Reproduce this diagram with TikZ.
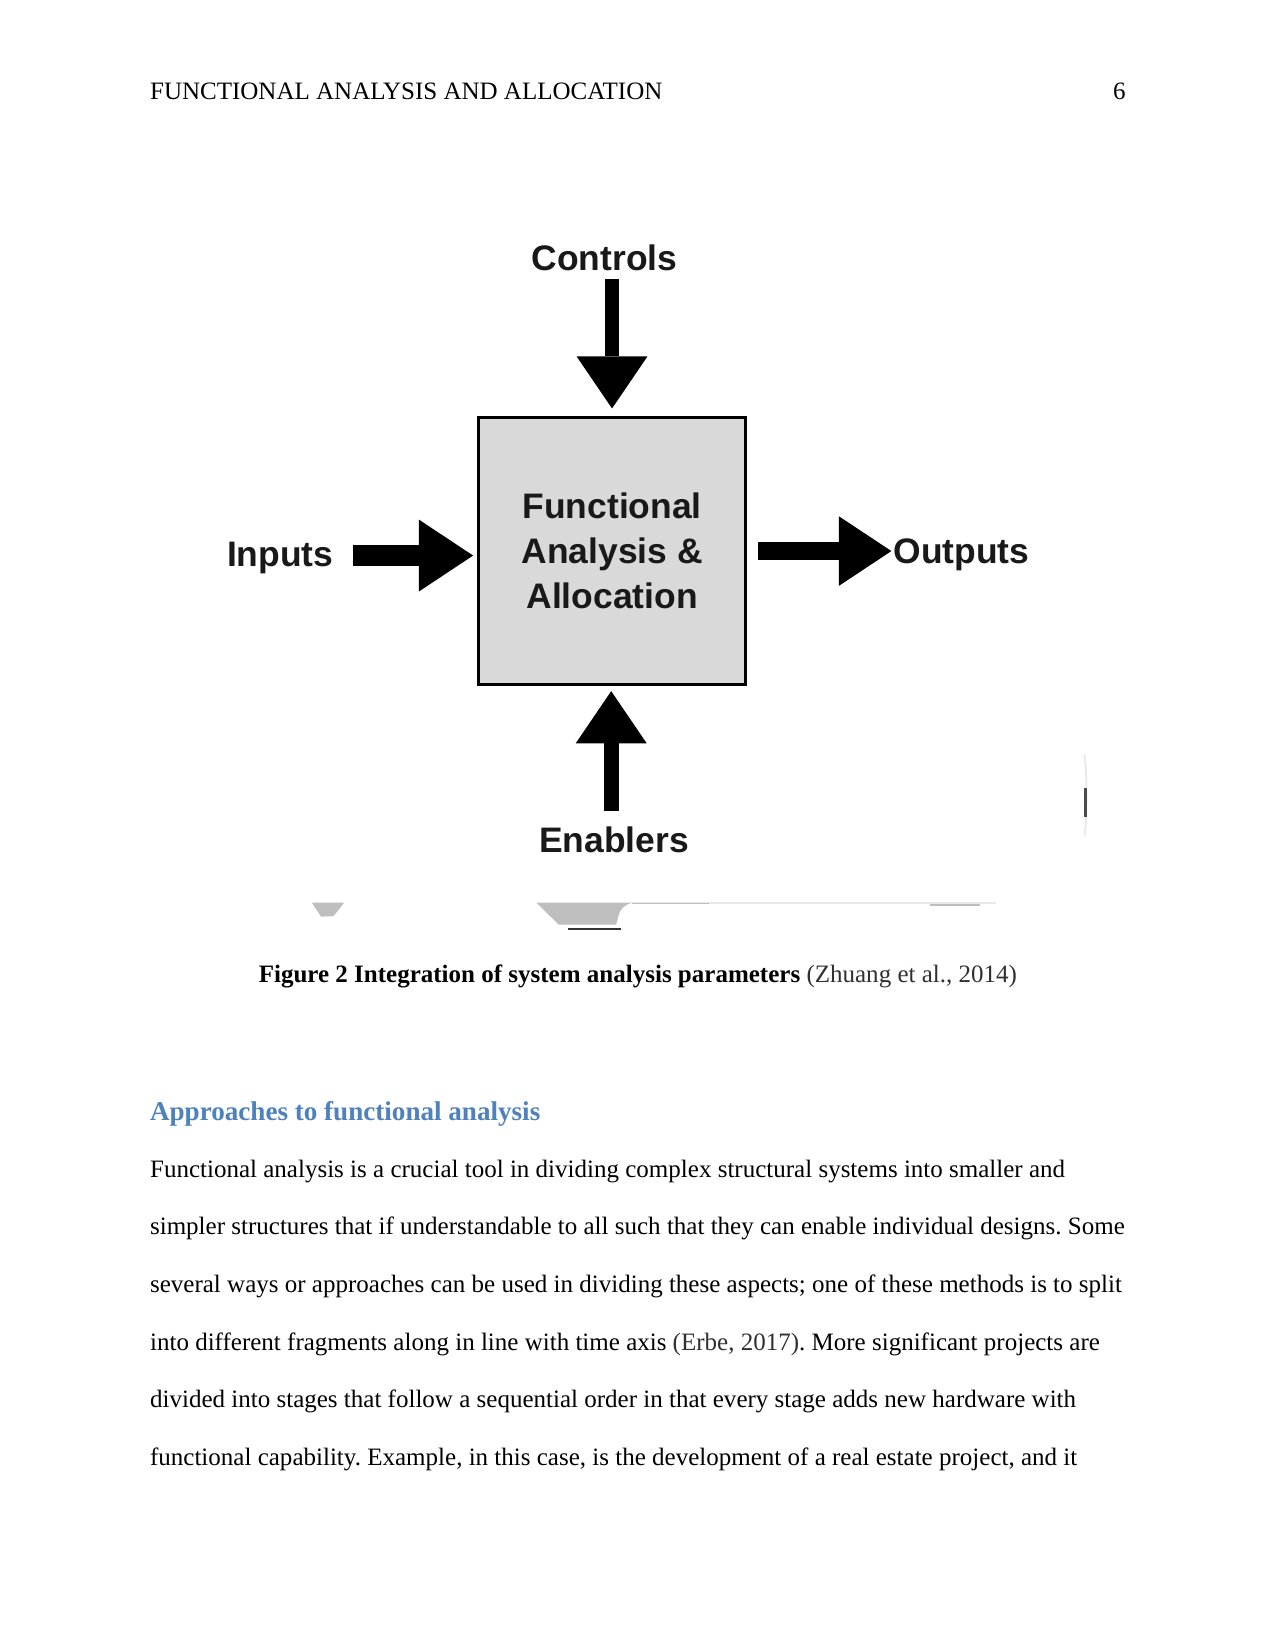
\documentclass[tikz,border=0pt]{standalone}
\usepackage{fontspec}
\setmainfont{Liberation Serif}
\newfontfamily\diagfont{Liberation Sans}
\usetikzlibrary{arrows.meta}
\frenchspacing
\definecolor{headblue}{RGB}{79,129,189}
\definecolor{boxgray}{RGB}{217,217,217}
\definecolor{citegray}{RGB}{48,48,48}
\definecolor{diagtext}{RGB}{25,25,25}
\definecolor{artgray}{RGB}{190,190,190}
\definecolor{artlight}{RGB}{232,232,232}
\begin{document}
\begin{tikzpicture}[x=1pt,y=1pt,
  txt/.style={inner sep=0pt, outer sep=0pt},
  lbl/.style={txt, text=diagtext, font=\diagfont\bfseries\fontsize{17}{20}\selectfont},
  body/.style={txt, anchor=base west, font=\fontsize{12}{14}\selectfont},
  fabox/.style={draw=black, line width=1.4pt, fill=boxgray, minimum width=128pt,
    minimum height=128pt, inner sep=0pt, align=center, text=diagtext,
    font=\diagfont\bfseries\fontsize{17}{21.5}\selectfont},
  blk/.style={draw=black, -{Triangle[width=34pt,length=25pt,line width=0pt]}}
]
\useasboundingbox (0,0) rectangle (612,-792);
\fill[white] (0,0) rectangle (612,-792);

% header
\node[body] (hdr) at (72,-47.5) {FUNCTIONAL ANALYSIS AND ALLOCATION};
\node[txt, anchor=base east, font=\fontsize{12}{14}\selectfont] (pgno) at (540,-47.5) {6};

% diagram
\node[fabox] (box) at (293.65,-264.35) {Functional\\Analysis \&\\Allocation};
\node[lbl, anchor=base] (controls) at (290,-129.9) {Controls};
\node[lbl, anchor=base] (inputs) at (134.4,-271.9) {Inputs};
\node[lbl, anchor=base west] (outputs) at (428.6,-270.3) {Outputs};
\node[lbl, anchor=base] (enablers) at (294.6,-408.8) {Enablers};

\coordinate (cS) at (293.6,-134);
\coordinate (iS) at (169.3,-266.5);
\coordinate (eS) at (293.2,-389.1);

\draw[blk, line width=7pt, shorten >=3.7pt] (cS) -- (cS |- box.north);
\draw[draw=black, line width=10pt, shorten >=2pt,
  -{Triangle[width=34.5pt,length=26pt,line width=0pt]}] (iS) -- (iS -| box.west);
\draw[draw=black, line width=8.5pt, shorten <=5.5pt, shorten >=1pt,
  -{Triangle[width=33.4pt,length=25.2pt,line width=0pt]}] (box.east) -- (box.east -| outputs.west);
\draw[blk, line width=7pt, shorten >=2.5pt] (eS) -- (eS |- box.south);

% image artefacts
\fill[artgray] (149.6,-433) -- (165.1,-433) -- (160,-439.5) -- (154,-439.7) -- cycle;
\fill[artgray] (257.3,-433) -- (303.4,-433) .. controls (296,-435) and (297,-440) .. (295.5,-443.5) -- (268,-443.5) -- cycle;
\draw[artlight, line width=1pt] (303.4,-433.2) -- (478,-433.2);
\draw[artgray, line width=0.8pt] (303.4,-433.4) -- (340,-433.4);
\draw[artgray, line width=1pt] (446,-434) -- (470,-434);
\draw[black!80, line width=1pt] (272.6,-445.5) -- (298,-445.5);
\draw[artlight, line width=0.8pt] (520.2,-362) .. controls (521.5,-370) and (521.5,-395) .. (520.2,-401);
\draw[black!70, line width=1.5pt] (520.8,-378) -- (520.8,-392);

% caption
\node[txt, anchor=base, font=\fontsize{12}{14}\selectfont] (cap) at (306,-471.5)
  {\textbf{Figure 2 Integration of system analysis parameters} \textcolor{citegray}{(Zhuang et al., 2014)}};

% heading
\node[txt, anchor=base west, font=\bfseries\fontsize{13}{15}\selectfont, text=headblue] (head) at (72,-537.7)
  {Approaches to functional analysis};

% body
\node[body] (l1) at (72,-564.8) {Functional analysis is a crucial tool in dividing complex structural systems into smaller and};
\node[body] (l2) at (72,-592.4) {simpler structures that if understandable to all such that they can enable individual designs. Some};
\node[body] (l3) at (72,-620.0) {several ways or approaches can be used in dividing these aspects; one of these methods is to split};
\node[body] (l4) at (72,-647.6) {into different fragments along in line with time axis \textcolor{citegray}{(Erbe, 2017)}. More significant projects are};
\node[body] (l5) at (72,-675.2) {divided into stages that follow a sequential order in that every stage adds new hardware with};
\node[body] (l6) at (72,-702.8) {functional capability. Example, in this case, is the development of a real estate project, and it};
\end{tikzpicture}
\end{document}
